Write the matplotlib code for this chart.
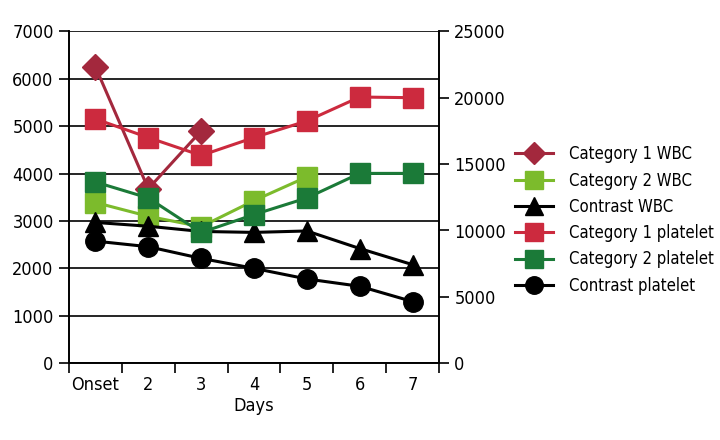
import matplotlib
matplotlib.use("Agg")
import matplotlib.pyplot as plt
import numpy as np

plt.rcParams['font.family'] = ['DejaVu Sans']
plt.rcParams['font.stretch'] = 'condensed'

days = ["Onset", "2", "3", "4", "5", "6", "7"]

cat1_wbc = [6250, 3680, 4900, None, None, None, None]
cat2_wbc = [3390, 3100, 2880, 3430, 3930, None, None]
contrast_wbc = [2970, 2890, 2780, 2760, 2790, 2420, 2080]

cat1_plt = [18400, 17000, 15650, 17000, 18250, 20050, 20000]
cat2_plt = [13650, 12450, 9850, 11200, 12450, 14300, 14300]
contrast_plt = [9200, 8780, 7900, 7150, 6350, 5800, 4650]

left_ticks = [0, 1000, 2000, 3000, 4000, 5000, 6000, 7000]
right_ticks = [0, 5000, 10000, 15000, 20000, 25000]

def arr(v):
    return np.array([np.nan if x is None else x for x in v], dtype=float)

fig = plt.figure(figsize=(7.2, 4.4), dpi=100)
ax = fig.add_axes([69/720, 1-363.3/440, 370/720, 332/440])
ax2 = ax.twinx()

x = np.arange(len(days))
lw = 2.2
ax.plot(x, arr(cat1_wbc), color='#A3283D', marker='D', ms=13, lw=lw, label='Category 1 WBC')
ax.plot(x, arr(cat2_wbc), color='#7CBB2C', marker='s', ms=14, lw=lw, label='Category 2 WBC')
ax.plot(x, arr(contrast_wbc), color='black', marker='^', ms=14, lw=lw, label='Contrast WBC')
ax2.plot(x, arr(cat1_plt), color='#CC2A3E', marker='s', ms=14, lw=lw, label='Category 1 platelet')
ax2.plot(x, arr(cat2_plt), color='#1B7A38', marker='s', ms=14, lw=lw, label='Category 2 platelet')
ax2.plot(x, arr(contrast_plt), color='black', marker='o', ms=14, lw=lw, label='Contrast platelet')

ax.set_xlim(-0.5, len(days) - 0.5)
ax.set_ylim(0, 7000)
ax2.set_ylim(0, 25000)
ax.set_yticks(left_ticks)
ax.set_yticklabels([str(t) for t in left_ticks])
ax2.set_yticks(right_ticks)
ax2.set_yticklabels([str(t) for t in right_ticks])

ax.set_xticks(x)
ax.set_xticklabels(days)
ax.set_xticks(np.arange(len(days) + 1) - 0.5, minor=True)
ax.tick_params(axis='x', which='major', length=0, pad=9, labelsize=13)
ax.tick_params(axis='x', which='minor', length=7, width=1.2, direction='out')
ax.tick_params(axis='y', length=7, width=1.2, labelsize=13, pad=4)
ax2.tick_params(axis='y', length=7, width=1.2, labelsize=13, pad=4)

ax.yaxis.grid(True, color='black', lw=1.2)
ax.set_axisbelow(True)
for a in (ax, ax2):
    a.spines['top'].set_visible(False)
    for s in ('left', 'right', 'bottom'):
        a.spines[s].set_linewidth(1.2)
ax.set_xlabel('Days', fontsize=13, labelpad=2)

h1, l1 = ax.get_legend_handles_labels()
h2, l2 = ax2.get_legend_handles_labels()
fig.legend(h1 + h2, l1 + l2, loc='center left', bbox_to_anchor=(515/720, 1-220/440),
           frameon=False, fontsize=12, handlelength=2.3, handletextpad=0.95,
           labelspacing=0.5, markerscale=0.9, borderpad=0, borderaxespad=0)

fig.savefig('out.png', dpi=100)
